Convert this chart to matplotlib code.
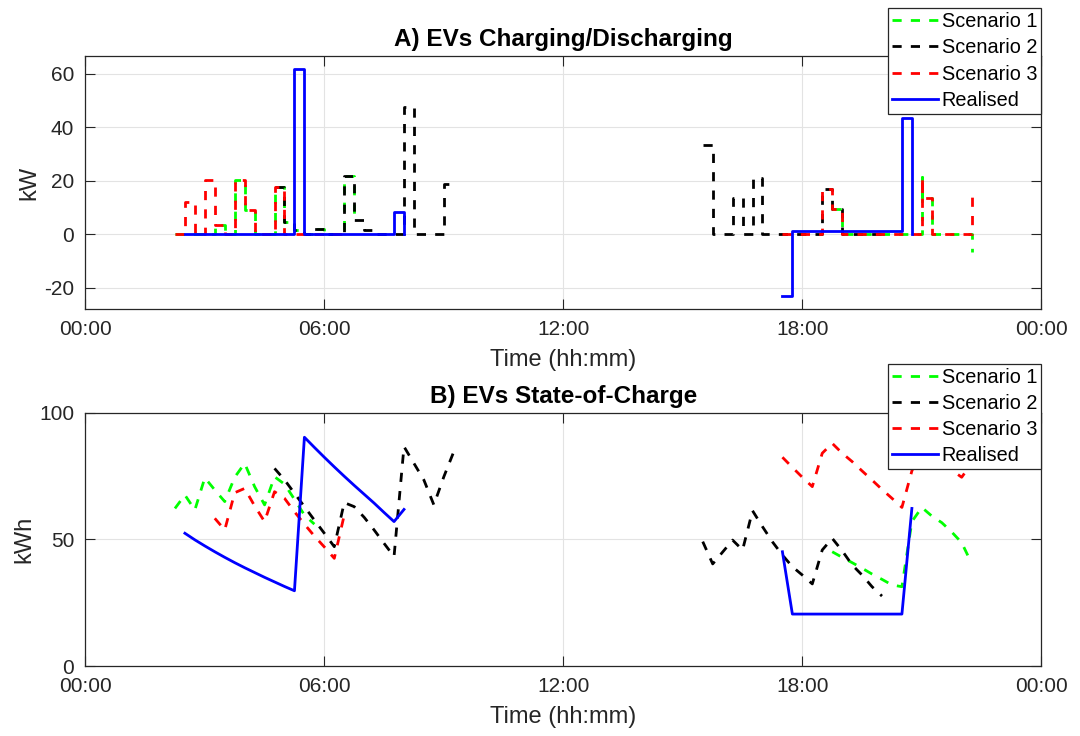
import numpy as np
import matplotlib
matplotlib.use('Agg')
import matplotlib.pyplot as plt

plt.rcParams['font.family'] = ['Liberation Sans', 'DejaVu Sans']
plt.rcParams['axes.unicode_minus'] = False

# Panel A: charging/discharging power (kW), 15-min stairs, hours of day
s1_pw_t_am = [2.25, 2.5, 2.75, 3.0, 3.25, 3.5, 3.75, 4.0, 4.25, 4.5, 4.75, 5.0, 5.25, 5.5, 5.75, 6.0, 6.25, 6.5, 6.75]
s1_pw_am = [0, 0, 0, 0, 3.5, 0, 20.5, 9.1, 0, 0, 17.8, 4.5, 1.5, 0, 2.0, 0, 0, 21.8, 5.3]
s1_pw_t_pm = [18.75, 19.0, 19.25, 19.5, 19.75, 20.0, 20.25, 20.5, 20.75, 21.0, 21.0, 21.25, 21.5, 21.75, 22.0, 22.25]
s1_pw_pm = [9.3, 0, 0, 0, 0, 0, 0, 0, 0, 21.5, 13.5, 0, 0, 0, 0, -6.5]

s2_pw_t_am = [4.75, 5.0, 5.25, 5.5, 5.75, 6.0, 6.25, 6.5, 6.75, 7.0, 7.25, 7.5, 7.75, 8.0, 8.25, 8.5, 8.75, 9.0, 9.25]
s2_pw_am = [17.8, 4.5, 1.5, 0, 2.0, 0, 0, 21.8, 5.3, 1.5, 0, 0, 0, 47.7, 0, 0, 0, 19.0, 19.0]
s2_pw_t_pm = [15.5, 15.75, 16.0, 16.25, 16.5, 16.75, 17.0, 17.25, 17.5, 17.75, 18.0, 18.25, 18.5, 18.75, 19.0, 19.25, 19.5, 19.75, 20.0]
s2_pw_pm = [33.4, 0, 0, 13.5, 0, 21.0, 0, 0, 0, 0, 0, 0, 16.9, 9.3, 0, 0, 0, 0, -1.5]

s3_pw_t_am = [2.25, 2.5, 2.75, 3.0, 3.25, 3.5, 3.75, 4.0, 4.25, 4.5, 4.75, 5.0, 5.25, 5.5, 5.75, 6.0, 6.25, 6.5]
s3_pw_am = [0, 12.2, 0, 20.3, 3.5, 0, 20.5, 9.1, 0, 0, 17.8, 0, 0, 0, 0, 0, 0, 0]
s3_pw_t_pm = [17.5, 17.75, 18.0, 18.25, 18.5, 18.75, 19.0, 19.25, 19.5, 19.75, 20.0, 20.25, 20.5, 20.75, 21.0, 21.0, 21.25, 21.5, 21.75, 22.0, 22.25]
s3_pw_pm = [0, 0, 0, 0, 16.9, 9.3, 0, 0, 0, 0, 0, 0, 0, 0, 21.5, 13.5, 0, 0, 0, 0, 13.8]

re_pw_t_am = [2.5, 2.75, 3.0, 3.25, 3.5, 3.75, 4.0, 4.25, 4.5, 4.75, 5.0, 5.25, 5.5, 5.75, 6.0, 6.25, 6.5, 6.75, 7.0, 7.25, 7.5, 7.75, 8.0]
re_pw_am = [0, 0, 0, 0, 0, 0, 0, 0, 0, 0, 0, 61.8, 0, 0, 0, 0, 0, 0, 0, 0, 0, 8.2, 0]
re_pw_t_pm = [17.5, 17.75, 18.0, 18.25, 18.5, 18.75, 19.0, 19.25, 19.5, 19.75, 20.0, 20.25, 20.5, 20.75]
re_pw_pm = [-23.0, 1.2, 1.2, 1.2, 1.2, 1.2, 1.2, 1.2, 1.2, 1.2, 1.2, 1.2, 43.4, 0]

# Panel B: state of charge (kWh)
s1_soc_t_am = [2.25, 2.5, 2.75, 3.0, 3.25, 3.5, 3.75, 4.0, 4.25, 4.5, 4.75, 5.0, 5.25, 5.5, 5.75]
s1_soc_am = [62.2, 67.5, 61.6, 74.3, 69.5, 64.9, 74.5, 80.0, 70.8, 63.6, 74.7, 71.8, 65.8, 59.6, 56.0]
s1_soc_t_pm = [18.75, 19.0, 19.25, 19.5, 19.75, 20.0, 20.25, 20.5, 20.75, 21.0, 21.25, 21.5, 21.75, 22.0, 22.25]
s1_soc_pm = [45.1, 42.9, 40.8, 38.6, 36.3, 34.2, 32.0, 31.3, 57.0, 62.6, 59.2, 56.6, 52.9, 48.7, 40.5]

s2_soc_t_am = [4.75, 5.0, 5.25, 5.5, 5.75, 6.0, 6.25, 6.5, 6.75, 7.0, 7.25, 7.5, 7.75, 8.0, 8.25, 8.5, 8.75, 9.0, 9.25]
s2_soc_am = [78.0, 73.5, 68.2, 62.9, 57.6, 52.4, 47.1, 64.5, 62.9, 58.7, 53.7, 48.4, 43.2, 86.6, 80.0, 73.4, 63.6, 74.7, 84.6]
s2_soc_t_pm = [15.5, 15.75, 16.0, 16.25, 16.5, 16.75, 17.0, 17.25, 17.5, 17.75, 18.0, 18.25, 18.5, 18.75, 19.0, 19.25, 19.5, 19.75, 20.0]
s2_soc_pm = [49.1, 40.3, 45.0, 49.7, 45.8, 61.3, 55.0, 49.0, 43.8, 39.2, 35.9, 32.4, 45.8, 50.4, 45.5, 39.9, 35.9, 31.3, 27.6]

s3_soc_t_am = [3.25, 3.5, 3.75, 4.0, 4.25, 4.5, 4.75, 5.0, 5.25, 5.5, 5.75, 6.0, 6.25, 6.5]
s3_soc_am = [58.3, 53.7, 68.4, 70.1, 63.2, 57.0, 68.8, 66.2, 60.9, 56.0, 51.3, 47.0, 42.5, 59.6]
s3_soc_t_pm = [17.5, 17.75, 18.0, 18.25, 18.5, 18.75, 19.0, 19.25, 19.5, 19.75, 20.0, 20.25, 20.5, 20.75, 21.0, 21.25, 21.5, 21.75, 22.0, 22.25]
s3_soc_pm = [82.4, 78.4, 74.5, 70.8, 84.0, 87.9, 84.0, 80.7, 77.0, 73.4, 69.7, 66.2, 62.6, 77.0, 86.0, 84.0, 81.0, 77.4, 74.5, 80.0]

re_soc_t_am = [2.5, 2.75, 3.0, 3.25, 3.5, 3.75, 4.0, 4.25, 4.5, 4.75, 5.0, 5.25, 5.5, 5.75, 6.0, 6.25, 6.5, 6.75, 7.0, 7.25, 7.5, 7.75, 8.0]
re_soc_am = [52.4, 49.8, 47.4, 45.1, 42.9, 40.8, 38.8, 36.9, 35.0, 33.2, 31.4, 29.7, 90.3, 86.3, 82.4, 78.6, 74.9, 71.3, 67.8, 64.3, 60.6, 57.0, 61.8]
re_soc_t_pm = [17.5, 17.75, 18.0, 18.25, 18.5, 18.75, 19.0, 19.25, 19.5, 19.75, 20.0, 20.25, 20.5, 20.75]
re_soc_pm = [45.1, 20.5, 20.5, 20.5, 20.5, 20.5, 20.5, 20.5, 20.5, 20.5, 20.5, 20.5, 20.5, 62.2]

labels = ['Scenario 1', 'Scenario 2', 'Scenario 3', 'Realised']
tick_hours = [0, 6, 12, 18, 24]
tick_labels = ['00:00', '06:00', '12:00', '18:00', '00:00']

GREEN, BLACK, RED, BLUE = '#00ff00', '#000000', '#ff0000', '#0000ff'
AX_COL = '#262626'
LW = 2.0
DASH = (3.3, 3.3)

fig = plt.figure(figsize=(10.8, 7.36), dpi=100)
ax1 = fig.add_axes([0.0790, 0.5802, 0.8852, 0.3438])
ax2 = fig.add_axes([0.0790, 0.0951, 0.8852, 0.3442])


def style(ax, ylim, yticks, ylabel, title):
    ax.set_xlim(0, 24)
    ax.set_ylim(*ylim)
    ax.set_xticks(tick_hours)
    ax.set_xticklabels(tick_labels)
    ax.set_yticks(yticks)
    ax.grid(True, color='#e3e3e3', lw=0.8)
    ax.set_axisbelow(True)
    ax.tick_params(direction='in', length=7, width=0.8, top=True, right=True,
                   labelsize=15, colors=AX_COL, pad=8)
    for sp in ax.spines.values():
        sp.set_color(AX_COL)
        sp.set_linewidth(0.9)
    ax.set_xlabel('Time (hh:mm)', fontsize=17, color=AX_COL, labelpad=7)
    ax.set_ylabel(ylabel, fontsize=17, color=AX_COL, labelpad=3)
    ax.set_title(title, fontsize=17.5, fontweight='bold', color='black', pad=7)


# --- A) power, drawn as stairs
pw = [(s1_pw_t_am, s1_pw_am, s1_pw_t_pm, s1_pw_pm, GREEN, '--'),
      (s2_pw_t_am, s2_pw_am, s2_pw_t_pm, s2_pw_pm, BLACK, '--'),
      (s3_pw_t_am, s3_pw_am, s3_pw_t_pm, s3_pw_pm, RED, '--'),
      (re_pw_t_am, re_pw_am, re_pw_t_pm, re_pw_pm, BLUE, '-')]
for (ta, va, tp, vp, c, ls), lab in zip(pw, labels):
    kw = dict(where='post', color=c, lw=LW, ls=ls)
    if ls == '--':
        kw['dashes'] = DASH
    ax1.step(ta, va, label=lab, **kw)
    ax1.step(tp, vp, **kw)

# --- B) state of charge
soc = [(s1_soc_t_am, s1_soc_am, s1_soc_t_pm, s1_soc_pm, GREEN, '--'),
       (s2_soc_t_am, s2_soc_am, s2_soc_t_pm, s2_soc_pm, BLACK, '--'),
       (s3_soc_t_am, s3_soc_am, s3_soc_t_pm, s3_soc_pm, RED, '--'),
       (re_soc_t_am, re_soc_am, re_soc_t_pm, re_soc_pm, BLUE, '-')]
for (ta, va, tp, vp, c, ls), lab in zip(soc, labels):
    kw = dict(color=c, lw=LW, ls=ls)
    if ls == '--':
        kw['dashes'] = DASH
    ax2.plot(ta, va, label=lab, **kw)
    ax2.plot(tp, vp, **kw)

style(ax1, (-27.9, 66.7), [-20, 0, 20, 40, 60], 'kW', 'A) EVs Charging/Discharging')
style(ax2, (0, 100), [0, 50, 100], 'kWh', 'B) EVs State-of-Charge')

for ax, top in [(ax1, 1 - 8.3 / 736), (ax2, 1 - 364 / 736)]:
    leg = ax.legend(loc='upper right', bbox_to_anchor=(1041.3 / 1080, top),
                    bbox_transform=fig.transFigure, fontsize=14.3, frameon=True,
                    fancybox=False, handlelength=2.3, handletextpad=0.2,
                    labelspacing=0.36, borderpad=0.2, borderaxespad=0)
    leg.get_frame().set_edgecolor(AX_COL)
    leg.get_frame().set_linewidth(0.9)
    leg.get_frame().set_alpha(1)

fig.savefig('out.png', dpi=100)
